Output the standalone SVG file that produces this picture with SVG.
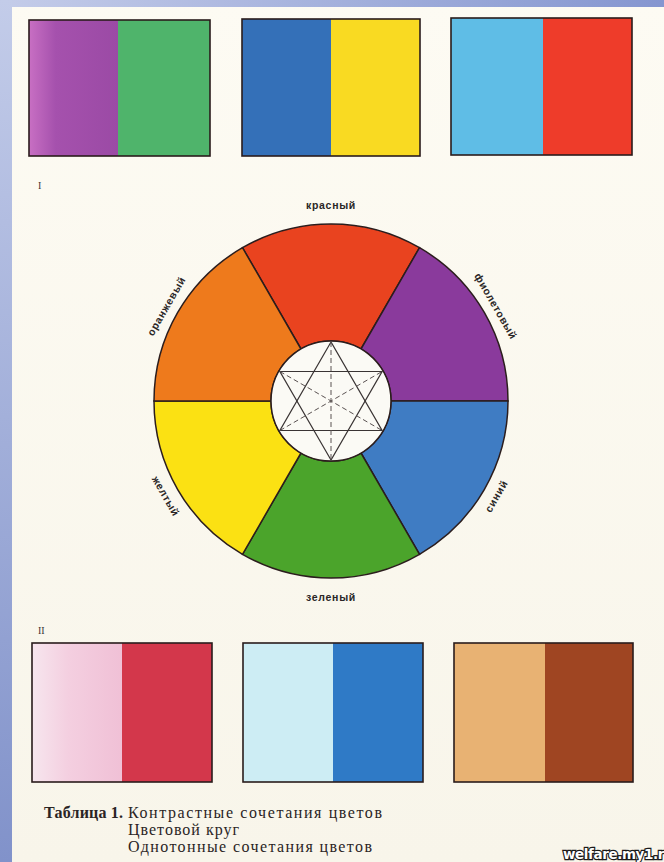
<svg xmlns="http://www.w3.org/2000/svg" width="664" height="862" viewBox="0 0 664 862">
<defs>
<linearGradient id="page" x1="0" y1="0" x2="0" y2="1"><stop offset="0" stop-color="#fdfbf3"/><stop offset="1" stop-color="#f8f5ea"/></linearGradient>
<linearGradient id="leftStrip" x1="0" y1="0" x2="0" y2="1"><stop offset="0" stop-color="#c3cce9"/><stop offset="1" stop-color="#8192ca"/></linearGradient>
<linearGradient id="topStrip" x1="0" y1="0" x2="1" y2="0"><stop offset="0" stop-color="#c4cce9"/><stop offset="1" stop-color="#8596d0"/></linearGradient>
<linearGradient id="violet" x1="0" y1="0" x2="1" y2="0"><stop offset="0" stop-color="#c86fc3"/><stop offset="0.3" stop-color="#a551ad"/><stop offset="1" stop-color="#9b4aa5"/></linearGradient>
<linearGradient id="pink" x1="0" y1="0" x2="1" y2="0"><stop offset="0" stop-color="#f7e6ee"/><stop offset="0.4" stop-color="#f4cfe0"/><stop offset="1" stop-color="#f0c0d6"/></linearGradient>
<style>
.box{stroke:#2a1c1c;stroke-width:1.6;fill:none}
.seg{stroke:#2b1d1d;stroke-width:1.5}
.hex{stroke:#3a3434;stroke-width:1.2;fill:none}
.dash{stroke:#5a5252;stroke-width:1;stroke-dasharray:5 3;fill:none}
.lbl{font-family:"Liberation Sans",Arial,sans-serif;font-size:10.5px;font-weight:bold;letter-spacing:0.7px;fill:#2a2626;text-anchor:middle}
.num{font-family:"Liberation Serif","Times New Roman",serif;font-size:10px;fill:#3a3434}
.cap{font-family:"Liberation Serif","Times New Roman",serif;font-size:16px;fill:#2a2424}
</style>
</defs>
<rect x="0" y="0" width="664" height="862" fill="url(#page)"/>
<rect x="0" y="0" width="664" height="7" fill="url(#topStrip)"/>
<rect x="0" y="0" width="12" height="862" fill="url(#leftStrip)"/>

<g id="swatch-violet-green">
<rect x="29" y="20" width="89" height="136" fill="url(#violet)"/>
<rect x="118" y="20" width="92" height="136" fill="#4fb46b"/>
<rect class="box" x="29" y="20" width="181" height="136"/>
</g>
<g id="swatch-blue-yellow">
<rect x="242" y="19" width="89" height="137" fill="#3470b8"/>
<rect x="331" y="19" width="89" height="137" fill="#f9da22"/>
<rect class="box" x="242" y="19" width="178" height="137"/>
</g>
<g id="swatch-cyan-red">
<rect x="451" y="18" width="92" height="137" fill="#5fbde6"/>
<rect x="543" y="18" width="89" height="137" fill="#ee3c2a"/>
<rect class="box" x="451" y="18" width="181" height="137"/>
</g>
<text class="num" x="38" y="189">I</text>

<g id="color-wheel">
<path id="seg-red" class="seg" fill="#e9431f" d="M 242.5 247.7 A 177 177 0 0 1 419.5 247.7 L 361 349 A 60 60 0 0 0 301 349 Z"/>
<path id="seg-violet" class="seg" fill="#8a3a9c" d="M 419.5 247.7 A 177 177 0 0 1 508 401 L 391 401 A 60 60 0 0 0 361 349 Z"/>
<path id="seg-blue" class="seg" fill="#3f7cc3" d="M 508 401 A 177 177 0 0 1 419.5 554.3 L 361 453 A 60 60 0 0 0 391 401 Z"/>
<path id="seg-green" class="seg" fill="#4ba42b" d="M 419.5 554.3 A 177 177 0 0 1 242.5 554.3 L 301 453 A 60 60 0 0 0 361 453 Z"/>
<path id="seg-yellow" class="seg" fill="#fbe113" d="M 242.5 554.3 A 177 177 0 0 1 154 401 L 271 401 A 60 60 0 0 0 301 453 Z"/>
<path id="seg-orange" class="seg" fill="#ee7a1c" d="M 154 401 A 177 177 0 0 1 242.5 247.7 L 301 349 A 60 60 0 0 0 271 401 Z"/>
<circle cx="331" cy="401" r="60" fill="#fbfaf5" stroke="#2b1d1d" stroke-width="1.5"/>
<g id="hexagram">
<polygon class="hex" points="331,342 279.9,430.5 382.1,430.5"/>
<polygon class="hex" points="331,460 279.9,371.5 382.1,371.5"/>
<line class="dash" x1="331" y1="342" x2="331" y2="460"/>
<line class="dash" x1="279.9" y1="371.5" x2="382.1" y2="430.5"/>
<line class="dash" x1="279.9" y1="430.5" x2="382.1" y2="371.5"/>
</g>
</g>

<g id="wheel-labels">
<g id="lbl-red" transform="translate(331,205)"><text class="lbl" y="4">красный</text></g>
<g id="lbl-violet" transform="translate(496,306) rotate(60)"><text class="lbl" y="4">фиолетовый</text></g>
<g id="lbl-blue" transform="translate(496,496) rotate(-60)"><text class="lbl" y="4">синий</text></g>
<g id="lbl-green" transform="translate(331,597)"><text class="lbl" y="4">зеленый</text></g>
<g id="lbl-yellow" transform="translate(166,496) rotate(60)"><text class="lbl" y="4">желтый</text></g>
<g id="lbl-orange" transform="translate(166,306) rotate(-60)"><text class="lbl" y="4">оранжевый</text></g>
</g>

<text class="num" x="38" y="634">II</text>
<g id="swatch-pink-crimson">
<rect x="32" y="643" width="90" height="139" fill="url(#pink)"/>
<rect x="122" y="643" width="90" height="139" fill="#d3374b"/>
<rect class="box" x="32" y="643" width="180" height="139"/>
</g>
<g id="swatch-paleblue-blue">
<rect x="243" y="643" width="90" height="139" fill="#cdedf4"/>
<rect x="333" y="643" width="90" height="139" fill="#2f7ac6"/>
<rect class="box" x="243" y="643" width="180" height="139"/>
</g>
<g id="swatch-tan-brown">
<rect x="454" y="643" width="91" height="139" fill="#e8b273"/>
<rect x="545" y="643" width="88" height="139" fill="#9f4522"/>
<rect class="box" x="454" y="643" width="179" height="139"/>
</g>

<g id="caption">
<text class="cap" x="44" y="818" font-weight="bold" textLength="79" lengthAdjust="spacing">Таблица 1.</text>
<text class="cap" x="128" y="818" textLength="254" lengthAdjust="spacing">Контрастные сочетания цветов</text>
<text class="cap" x="128" y="835" textLength="111" lengthAdjust="spacing">Цветовой круг</text>
<text class="cap" x="128" y="852" textLength="244" lengthAdjust="spacing">Однотонные сочетания цветов</text>
</g>
<text x="664" y="859" text-anchor="end" font-family="DejaVu Sans, sans-serif" font-weight="bold" font-size="13.5" fill="#ffffff" stroke="#1a1a1a" stroke-width="2.4" paint-order="stroke" letter-spacing="-0.4">welfare.my1.r</text>
</svg>
